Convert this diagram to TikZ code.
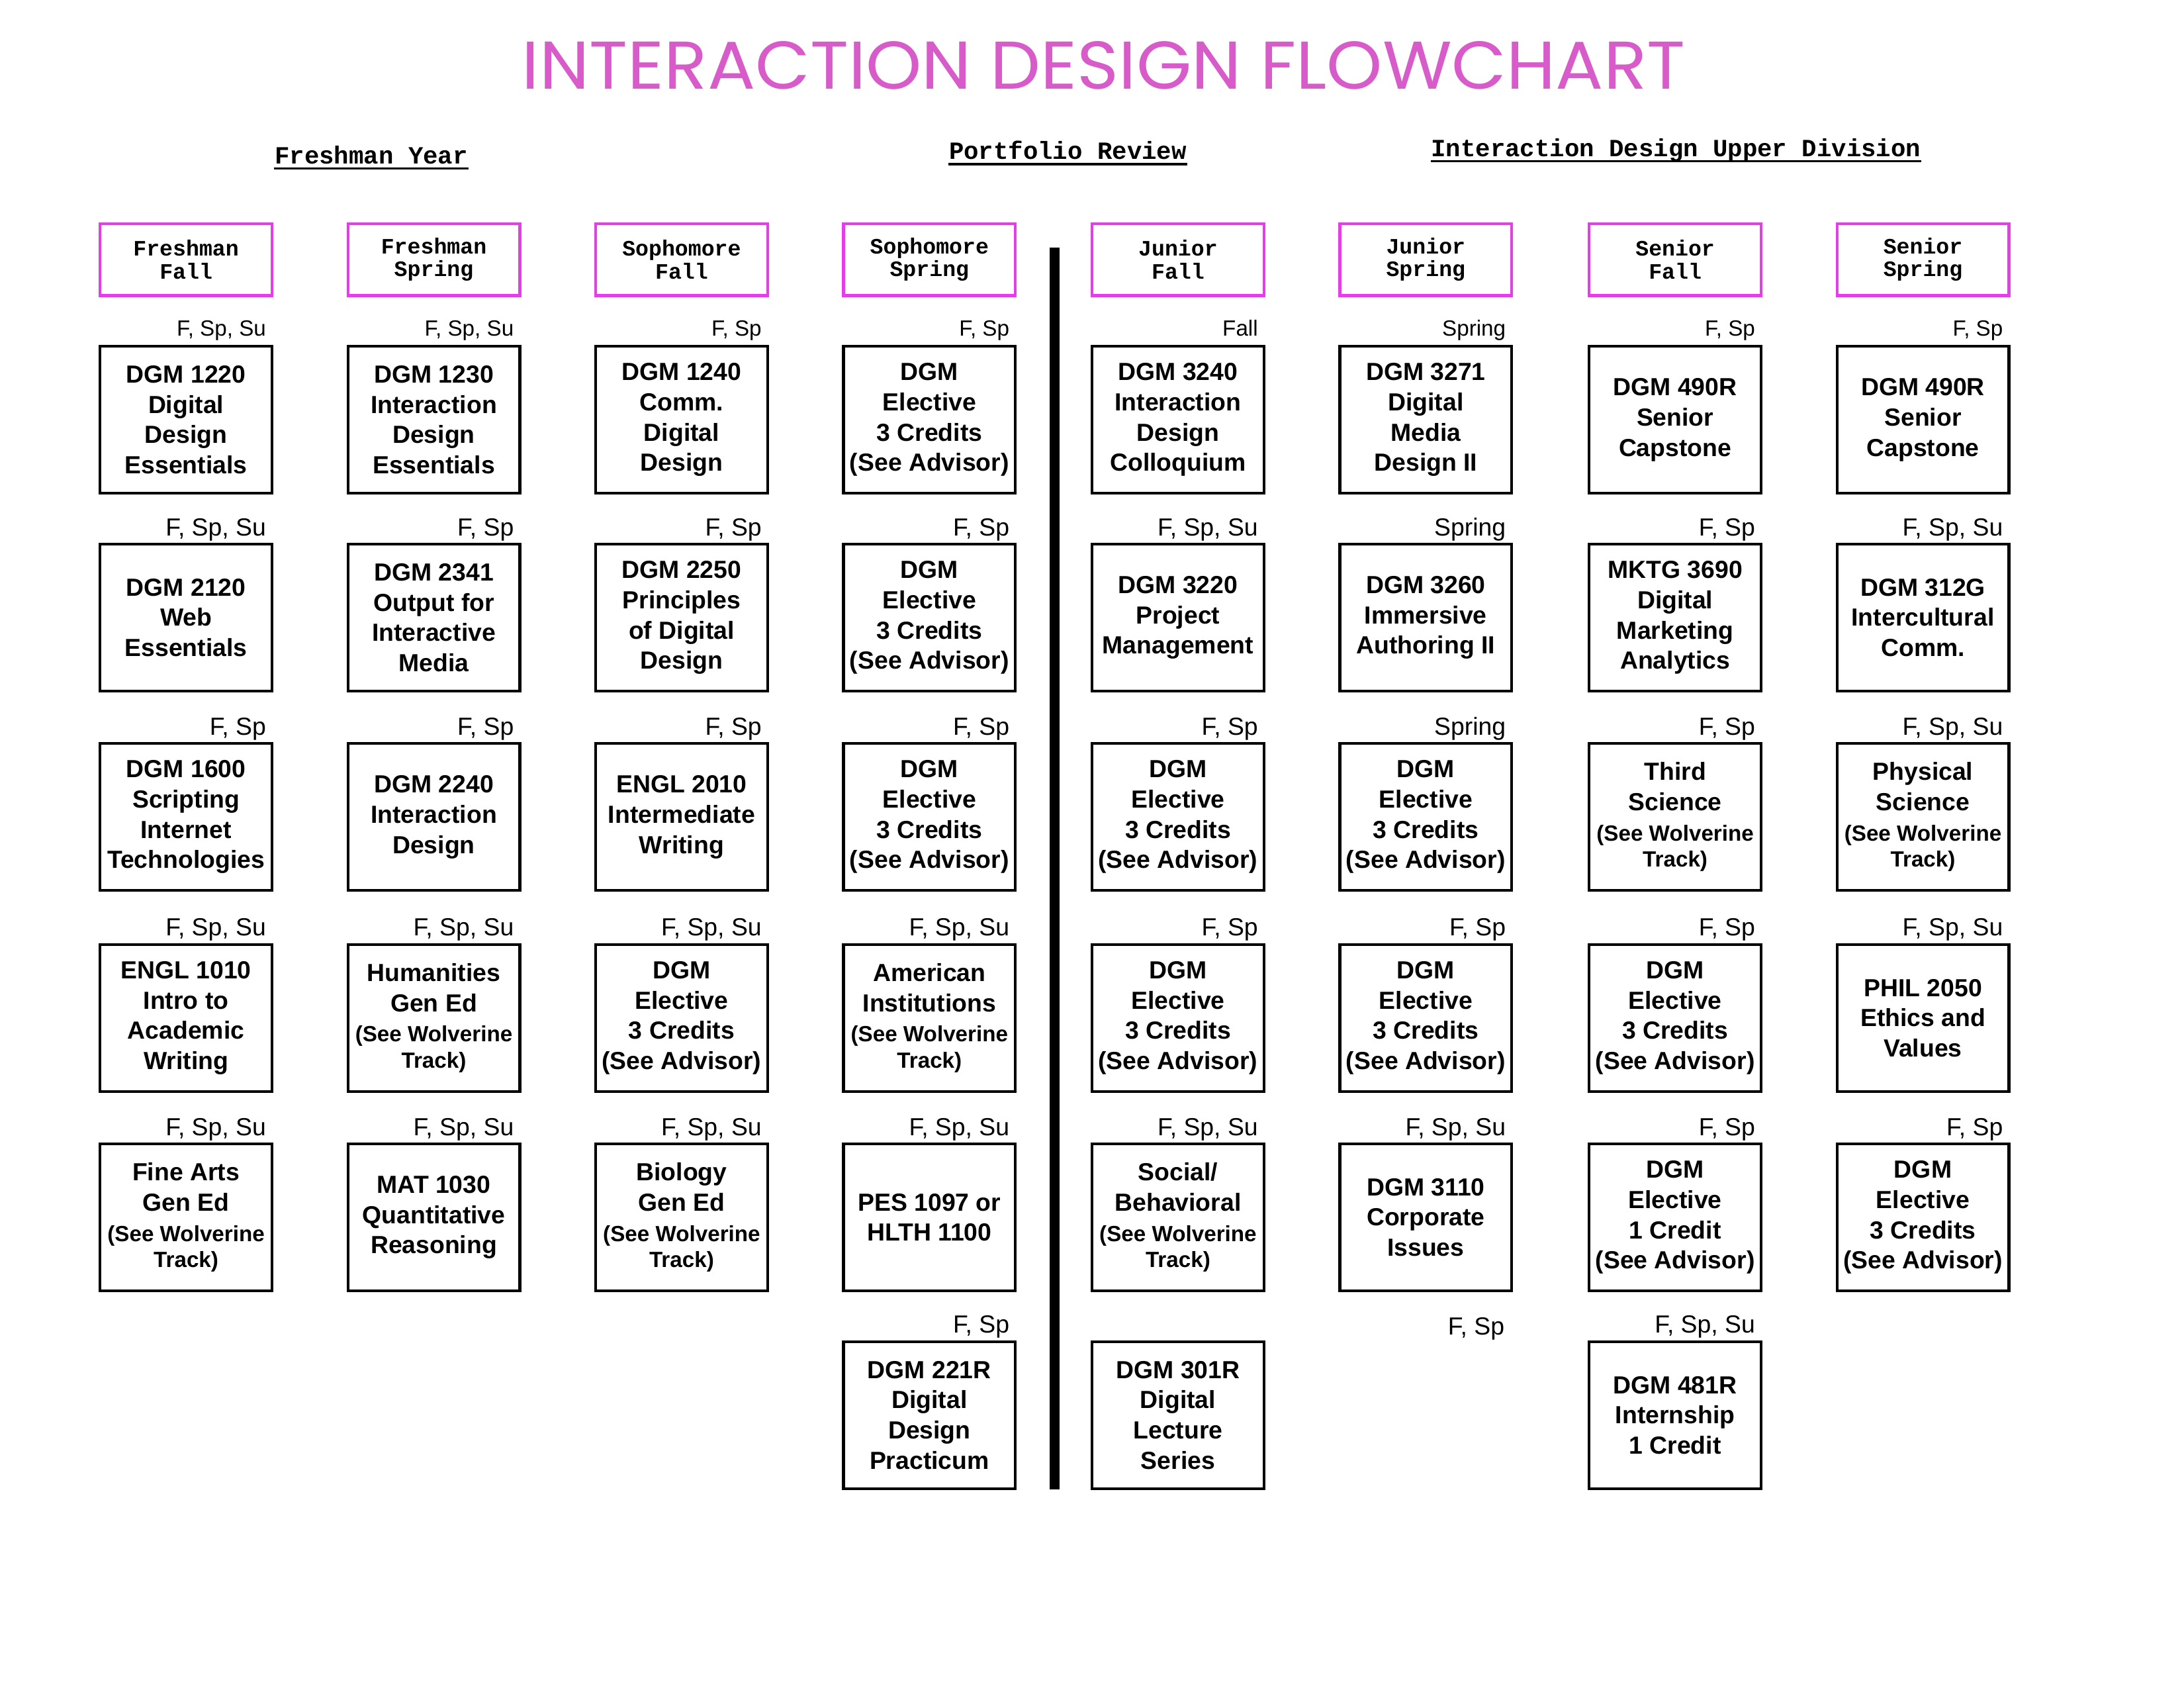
\documentclass[tikz,border=0pt]{standalone}
\usepackage{fontspec}
\setmainfont{Liberation Sans}
\setmonofont{Liberation Mono}
\newfontfamily\titlefont{Poppins}
\usepackage{graphicx}
\usetikzlibrary{positioning}
\definecolor{titlepink}{HTML}{D75CC9}
\definecolor{termpink}{HTML}{E23FE6}

\begin{document}
\begin{tikzpicture}[every node/.style={font=\small},
  course/.style={draw,line width=1pt,minimum width=2.2cm,minimum height=1.88cm,inner sep=1pt,align=center,font=\small\bfseries},
  term/.style={draw=termpink,line width=1pt,minimum width=2.2cm,minimum height=0.92cm,inner sep=1pt,align=center,font=\ttfamily\bfseries\fontsize{8}{8.2}\selectfont},
  sem/.style={font=\small,inner sep=0pt,text depth=2pt},
  semtop/.style={font=\footnotesize,inner sep=0pt,text depth=2pt},
  sect/.style={font=\ttfamily\bfseries\small,inner sep=0pt},
  uline/.style={line width=0.8pt}]
\useasboundingbox (0,0) rectangle (27.94,-21.59);
\node[text=titlepink,inner sep=0pt] (title) at (14.12,-0.84) {\resizebox{14.88cm}{0.61cm}{\titlefont INTERACTION DESIGN FLOWCHART}};
\node[sect] (yr) at (4.75,-1.98) {Freshman Year};
\node[sect] (pr) at (13.66,-1.92) {Portfolio Review};
\node[sect] (ud) at (21.44,-1.92) {Interaction Design Upper Division};
\draw[uline] ([yshift=-1.8pt]yr.base west) -- ([yshift=-1.8pt]yr.base east);
\draw[uline] ([yshift=-1.8pt]pr.base west) -- ([yshift=-1.8pt]pr.base east);
\draw[uline] ([yshift=-1.8pt]ud.base west) -- ([yshift=-1.8pt]ud.base east);
\coordinate (rtop) at (13.49,-3.17);
\coordinate (rbot) at (13.49,-19.05);
\draw[line width=3.5pt] (rtop) -- (rbot);

\node[term] (h1) at (2.38,-3.32) {Freshman\\Fall};
\node[term] (h2) at (5.55,-3.32) {Freshman\\Spring};
\node[term] (h3) at (8.72,-3.32) {Sophomore\\Fall};
\node[term] (h4) at (11.89,-3.32) {Sophomore\\Spring};
\node[term] (h5) at (15.07,-3.32) {Junior\\Fall};
\node[term] (h6) at (18.24,-3.32) {Junior\\Spring};
\node[term] (h7) at (21.43,-3.32) {Senior\\Fall};
\node[term] (h8) at (24.60,-3.32) {Senior\\Spring};

\node[course] (c11) at (2.38,-5.37) {DGM 1220\\Digital\\Design\\Essentials};
\node[semtop,above left=1.2pt and 2.5pt of c11.north east] (s11) {F, Sp, Su};
\node[course] (c12) at (2.38,-7.90) {DGM 2120\\Web\\Essentials};
\node[sem,above left=0.4pt and 2.5pt of c12.north east] (s12) {F, Sp, Su};
\node[course] (c13) at (2.38,-10.45) {DGM 1600\\Scripting\\Internet\\Technologies};
\node[sem,above left=0.4pt and 2.5pt of c13.north east] (s13) {F, Sp};
\node[course] (c14) at (2.38,-13.02) {ENGL 1010\\Intro to\\Academic\\Writing};
\node[sem,above left=0.4pt and 2.5pt of c14.north east] (s14) {F, Sp, Su};
\node[course] (c15) at (2.38,-15.57) {Fine Arts\\Gen Ed\\{\footnotesize (See Wolverine}\\[-1.5pt]{\footnotesize Track)}};
\node[sem,above left=0.4pt and 2.5pt of c15.north east] (s15) {F, Sp, Su};

\node[course] (c21) at (5.55,-5.37) {DGM 1230\\Interaction\\Design\\Essentials};
\node[semtop,above left=1.2pt and 2.5pt of c21.north east] (s21) {F, Sp, Su};
\node[course] (c22) at (5.55,-7.90) {DGM 2341\\Output for\\Interactive\\Media};
\node[sem,above left=0.4pt and 2.5pt of c22.north east] (s22) {F, Sp};
\node[course] (c23) at (5.55,-10.45) {DGM 2240\\Interaction\\Design};
\node[sem,above left=0.4pt and 2.5pt of c23.north east] (s23) {F, Sp};
\node[course] (c24) at (5.55,-13.02) {Humanities\\Gen Ed\\{\footnotesize (See Wolverine}\\[-1.5pt]{\footnotesize Track)}};
\node[sem,above left=0.4pt and 2.5pt of c24.north east] (s24) {F, Sp, Su};
\node[course] (c25) at (5.55,-15.57) {MAT 1030\\Quantitative\\Reasoning};
\node[sem,above left=0.4pt and 2.5pt of c25.north east] (s25) {F, Sp, Su};

\node[course] (c31) at (8.72,-5.37) {DGM 1240\\Comm.\\Digital\\Design};
\node[semtop,above left=1.2pt and 2.5pt of c31.north east] (s31) {F, Sp};
\node[course] (c32) at (8.72,-7.90) {DGM 2250\\Principles\\of Digital\\Design};
\node[sem,above left=0.4pt and 2.5pt of c32.north east] (s32) {F, Sp};
\node[course] (c33) at (8.72,-10.45) {ENGL 2010\\Intermediate\\Writing};
\node[sem,above left=0.4pt and 2.5pt of c33.north east] (s33) {F, Sp};
\node[course] (c34) at (8.72,-13.02) {DGM\\Elective\\3 Credits\\(See Advisor)};
\node[sem,above left=0.4pt and 2.5pt of c34.north east] (s34) {F, Sp, Su};
\node[course] (c35) at (8.72,-15.57) {Biology\\Gen Ed\\{\footnotesize (See Wolverine}\\[-1.5pt]{\footnotesize Track)}};
\node[sem,above left=0.4pt and 2.5pt of c35.north east] (s35) {F, Sp, Su};

\node[course] (c41) at (11.89,-5.37) {DGM\\Elective\\3 Credits\\(See Advisor)};
\node[semtop,above left=1.2pt and 2.5pt of c41.north east] (s41) {F, Sp};
\node[course] (c42) at (11.89,-7.90) {DGM\\Elective\\3 Credits\\(See Advisor)};
\node[sem,above left=0.4pt and 2.5pt of c42.north east] (s42) {F, Sp};
\node[course] (c43) at (11.89,-10.45) {DGM\\Elective\\3 Credits\\(See Advisor)};
\node[sem,above left=0.4pt and 2.5pt of c43.north east] (s43) {F, Sp};
\node[course] (c44) at (11.89,-13.02) {American\\Institutions\\{\footnotesize (See Wolverine}\\[-1.5pt]{\footnotesize Track)}};
\node[sem,above left=0.4pt and 2.5pt of c44.north east] (s44) {F, Sp, Su};
\node[course] (c45) at (11.89,-15.57) {PES 1097 or\\HLTH 1100};
\node[sem,above left=0.4pt and 2.5pt of c45.north east] (s45) {F, Sp, Su};
\node[course] (c46) at (11.89,-18.10) {DGM 221R\\Digital\\Design\\Practicum};
\node[sem,above left=0.4pt and 2.5pt of c46.north east] (s46) {F, Sp};

\node[course] (c51) at (15.07,-5.37) {DGM 3240\\Interaction\\Design\\Colloquium};
\node[semtop,above left=1.2pt and 2.5pt of c51.north east] (s51) {Fall};
\node[course] (c52) at (15.07,-7.90) {DGM 3220\\Project\\Management};
\node[sem,above left=0.4pt and 2.5pt of c52.north east] (s52) {F, Sp, Su};
\node[course] (c53) at (15.07,-10.45) {DGM\\Elective\\3 Credits\\(See Advisor)};
\node[sem,above left=0.4pt and 2.5pt of c53.north east] (s53) {F, Sp};
\node[course] (c54) at (15.07,-13.02) {DGM\\Elective\\3 Credits\\(See Advisor)};
\node[sem,above left=0.4pt and 2.5pt of c54.north east] (s54) {F, Sp};
\node[course] (c55) at (15.07,-15.57) {Social/\\Behavioral\\{\footnotesize (See Wolverine}\\[-1.5pt]{\footnotesize Track)}};
\node[sem,above left=0.4pt and 2.5pt of c55.north east] (s55) {F, Sp, Su};
\node[course] (c56) at (15.07,-18.10) {DGM 301R\\Digital\\Lecture\\Series};

\node[course] (c61) at (18.24,-5.37) {DGM 3271\\Digital\\Media\\Design II};
\node[semtop,above left=1.2pt and 2.5pt of c61.north east] (s61) {Spring};
\node[course] (c62) at (18.24,-7.90) {DGM 3260\\Immersive\\Authoring II};
\node[sem,above left=0.4pt and 2.5pt of c62.north east] (s62) {Spring};
\node[course] (c63) at (18.24,-10.45) {DGM\\Elective\\3 Credits\\(See Advisor)};
\node[sem,above left=0.4pt and 2.5pt of c63.north east] (s63) {Spring};
\node[course] (c64) at (18.24,-13.02) {DGM\\Elective\\3 Credits\\(See Advisor)};
\node[sem,above left=0.4pt and 2.5pt of c64.north east] (s64) {F, Sp};
\node[course] (c65) at (18.24,-15.57) {DGM 3110\\Corporate\\Issues};
\node[sem,above left=0.4pt and 2.5pt of c65.north east] (s65) {F, Sp, Su};
\coordinate (e66) at (19.34,-17.16);
\node[sem,above left=0.4pt and 2.5pt of e66] (s66) {F, Sp};

\node[course] (c71) at (21.43,-5.37) {DGM 490R\\Senior\\Capstone};
\node[semtop,above left=1.2pt and 2.5pt of c71.north east] (s71) {F, Sp};
\node[course] (c72) at (21.43,-7.90) {MKTG 3690\\Digital\\Marketing\\Analytics};
\node[sem,above left=0.4pt and 2.5pt of c72.north east] (s72) {F, Sp};
\node[course] (c73) at (21.43,-10.45) {Third\\Science\\{\footnotesize (See Wolverine}\\[-1.5pt]{\footnotesize Track)}};
\node[sem,above left=0.4pt and 2.5pt of c73.north east] (s73) {F, Sp};
\node[course] (c74) at (21.43,-13.02) {DGM\\Elective\\3 Credits\\(See Advisor)};
\node[sem,above left=0.4pt and 2.5pt of c74.north east] (s74) {F, Sp};
\node[course] (c75) at (21.43,-15.57) {DGM\\Elective\\1 Credit\\(See Advisor)};
\node[sem,above left=0.4pt and 2.5pt of c75.north east] (s75) {F, Sp};
\node[course] (c76) at (21.43,-18.10) {DGM 481R\\Internship\\1 Credit};
\node[sem,above left=0.4pt and 2.5pt of c76.north east] (s76) {F, Sp, Su};

\node[course] (c81) at (24.60,-5.37) {DGM 490R\\Senior\\Capstone};
\node[semtop,above left=1.2pt and 2.5pt of c81.north east] (s81) {F, Sp};
\node[course] (c82) at (24.60,-7.90) {DGM 312G\\Intercultural\\Comm.};
\node[sem,above left=0.4pt and 2.5pt of c82.north east] (s82) {F, Sp, Su};
\node[course] (c83) at (24.60,-10.45) {Physical\\Science\\{\footnotesize (See Wolverine}\\[-1.5pt]{\footnotesize Track)}};
\node[sem,above left=0.4pt and 2.5pt of c83.north east] (s83) {F, Sp, Su};
\node[course] (c84) at (24.60,-13.02) {PHIL 2050\\Ethics and\\Values};
\node[sem,above left=0.4pt and 2.5pt of c84.north east] (s84) {F, Sp, Su};
\node[course] (c85) at (24.60,-15.57) {DGM\\Elective\\3 Credits\\(See Advisor)};
\node[sem,above left=0.4pt and 2.5pt of c85.north east] (s85) {F, Sp};
\end{tikzpicture}
\end{document}
